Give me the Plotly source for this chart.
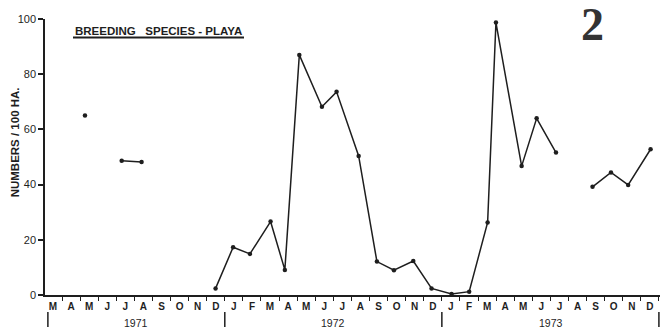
import plotly.graph_objects as go

# Month positions: 0 = March 1971 ... 33 = December 1973 (fractional = sampling date within month)
# None breaks the line where the survey has gaps
month_pos = [1.77, None,
             3.80, 4.90, None,
             8.99, 9.96, 10.89, 12.03, 12.82, 13.62, 14.87, 15.68, 16.90, 17.91,
             18.85, 19.92, 20.93, 22.04, 23.01, 24.03, 24.49, 25.91, 26.74, 27.81, None,
             29.83, 30.85, 31.80, 33.04]
numbers = [65.0, None,
           48.6, 48.2, None,
           2.4, 17.3, 14.9, 26.6, 9.1, 87.0, 68.2, 73.6, 50.4, 12.1,
           9.0, 12.3, 2.4, 0.4, 1.2, 26.3, 98.7, 46.7, 64.0, 51.6, None,
           39.2, 44.4, 39.9, 52.8]

month_labels = ["M", "A", "M", "J", "J", "A", "S", "O", "N", "D",
                "J", "F", "M", "A", "M", "J", "J", "A", "S", "O", "N", "D",
                "J", "F", "M", "A", "M", "J", "J", "A", "S", "O", "N", "D"]
years = ["1971", "1972", "1973"]
year_centers = [4.6, 15.5, 27.55]
year_dividers = [-0.28, 9.5, 21.5, 33.5]
y_ticks = [0, 20, 40, 60, 80, 100]

INK = "#1e1e1e"

fig = go.Figure()
fig.add_trace(go.Scatter(
    x=month_pos, y=numbers, mode="lines+markers",
    line=dict(color=INK, width=1.5),
    marker=dict(color=INK, size=4.5),
    connectgaps=False, cliponaxis=False, showlegend=False,
))

annotations = []
for yr, xc in zip(years, year_centers):
    annotations.append(dict(x=xc, y=-0.1, xref="x", yref="paper", text=yr,
                            showarrow=False, font=dict(family="Liberation Sans", size=10.5, color=INK),
                            xanchor="center", yanchor="middle"))
annotations.append(dict(x=-0.0488, y=0.553, xref="paper", yref="paper",
                        text="<b>NUMBERS / 100 HA.</b>", textangle=-90, showarrow=False,
                        font=dict(family="Liberation Sans", size=11.5, color=INK),
                        xanchor="center", yanchor="middle"))
annotations.append(dict(x=(73 - 45) / 615, y=(295.5 - 31.5) / 276, xref="paper", yref="paper",
                        text="<b>BREEDING   SPECIES - PLAYA</b>", showarrow=False,
                        font=dict(family="Liberation Sans", size=11.5, color=INK),
                        xanchor="left", yanchor="middle"))
annotations.append(dict(x=(592 - 45) / 615, y=(295.5 - 25) / 276, xref="paper", yref="paper",
                        text="<b>2</b>", showarrow=False,
                        font=dict(family="Liberation Serif", size=46, color="#333333"),
                        xanchor="center", yanchor="middle"))

shapes = []
for xd in year_dividers:
    shapes.append(dict(type="line", xref="x", yref="paper", x0=xd, x1=xd,
                       y0=-0.062, y1=-0.116, line=dict(color=INK, width=1.5)))
shapes.append(dict(type="line", xref="paper", yref="paper",
                   x0=(73 - 45) / 615, x1=(244 - 45) / 615,
                   y0=(295.5 - 38) / 276, y1=(295.5 - 38) / 276,
                   line=dict(color=INK, width=2)))

fig.update_layout(
    width=661, height=330,
    margin=dict(l=45, r=1, t=19, b=35),
    paper_bgcolor="white", plot_bgcolor="white",
    annotations=annotations, shapes=shapes,
    xaxis=dict(
        range=[-0.44, 33.56], showgrid=False, zeroline=False,
        showline=True, linecolor=INK, linewidth=1.5,
        tickmode="array", tickvals=list(range(len(month_labels))), ticktext=month_labels,
        ticks="outside", ticklen=1, tickcolor="rgba(0,0,0,0)",
        tickfont=dict(family="Liberation Sans", size=10, color=INK, weight="bold"),
        minor=dict(tickmode="array", tickvals=[i + 0.5 for i in range(-1, len(month_labels))],
                   ticks="outside", ticklen=4, tickwidth=1.2, tickcolor=INK, showgrid=False),
        tickangle=0,
    ),
    yaxis=dict(
        range=[0, 100], showgrid=False, zeroline=False,
        showline=True, linecolor=INK, linewidth=1.5,
        tickmode="array", tickvals=y_ticks,
        ticks="outside", ticklen=5, tickwidth=1.5, tickcolor=INK,
        tickfont=dict(family="Liberation Sans", size=11, color=INK),
    ),
)

fig.write_html("out.html")
